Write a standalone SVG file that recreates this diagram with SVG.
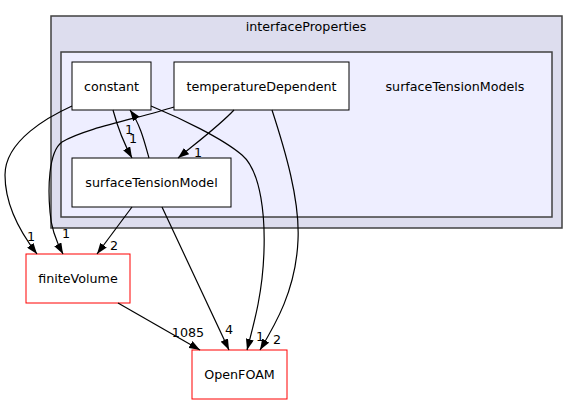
<svg xmlns="http://www.w3.org/2000/svg" width="578" height="404" viewBox="0 0 578 404">
<style>
text{font-family:"DejaVu Sans","Liberation Sans",sans-serif;font-size:12.7px;fill:#000;text-anchor:middle}
.c1{fill:#ddddee;stroke:#404040;stroke-width:1.5}
.c2{fill:#eeeeff;stroke:#404040;stroke-width:1.5}
.n{fill:#fff;stroke:#000;stroke-width:1}
.r{fill:#fff;stroke:#ff0000;stroke-width:1}
.e{fill:none;stroke:#000;stroke-width:1.2;marker-end:url(#a)}
</style>
<defs>
<marker id="a" markerUnits="userSpaceOnUse" markerWidth="11" markerHeight="8" refX="11" refY="4" orient="auto">
<path d="M0,0 L11,4 L0,8 z" fill="#000"/>
</marker>
</defs>
<g id="cluster_interfaceProperties">
<rect class="c1" x="51" y="16" width="511" height="212"/>
<text x="306" y="31">interfaceProperties</text>
</g>
<g id="cluster_surfaceTensionModels">
<rect class="c2" x="61" y="52" width="491" height="165"/>
<text x="455" y="90.5">surfaceTensionModels</text>
</g>
<g id="node_constant">
<rect class="n" x="72" y="62" width="79" height="48"/>
<text x="111.5" y="90.5">constant</text>
</g>
<g id="node_temperatureDependent">
<rect class="n" x="174" y="62" width="175" height="48"/>
<text x="261.5" y="90.5">temperatureDependent</text>
</g>
<g id="node_surfaceTensionModel">
<rect class="n" x="72" y="158" width="159" height="49"/>
<text x="151.5" y="187">surfaceTensionModel</text>
</g>
<g id="node_finiteVolume">
<rect class="r" x="26" y="254" width="104" height="49"/>
<text x="78" y="283">finiteVolume</text>
</g>
<g id="node_OpenFOAM">
<rect class="r" x="192" y="350" width="95" height="49"/>
<text x="239.5" y="379">OpenFOAM</text>
</g>
<g id="connectors">
<path class="e" d="M72,106 C50,116 5,140 5,175 C5,205 20,232 37,254"/>
<text x="31" y="241">1</text>
<path class="e" d="M174,107 C140,118 85,128 62,142 C48,152 48,190 50,212 C51,228 56,241 63,254"/>
<text x="66" y="238">1</text>
<path class="e" d="M113,110 C117,125 122,140 132,158"/>
<text x="133" y="143">1</text>
<path class="e" d="M149,158 C144,140 140,124 130,110"/>
<text x="129" y="134">1</text>
<path class="e" d="M234,110 C220,125 200,140 178,158"/>
<text x="198" y="157">1</text>
<path class="e" d="M151,106 C180,118 222,138 242,155 C262,172 265,220 264,250 C263,290 255,320 247,350"/>
<text x="260" y="341">1</text>
<path class="e" d="M272,110 C285,150 300,200 298,240 C296,290 275,325 260,350"/>
<text x="277" y="344">2</text>
<path class="e" d="M132,207 L97,254"/>
<text x="114" y="250">2</text>
<path class="e" d="M162,207 L229,350"/>
<text x="229" y="334">4</text>
<path class="e" d="M118,303 L200,350"/>
<text x="188" y="337">1085</text>
</g>
</svg>
